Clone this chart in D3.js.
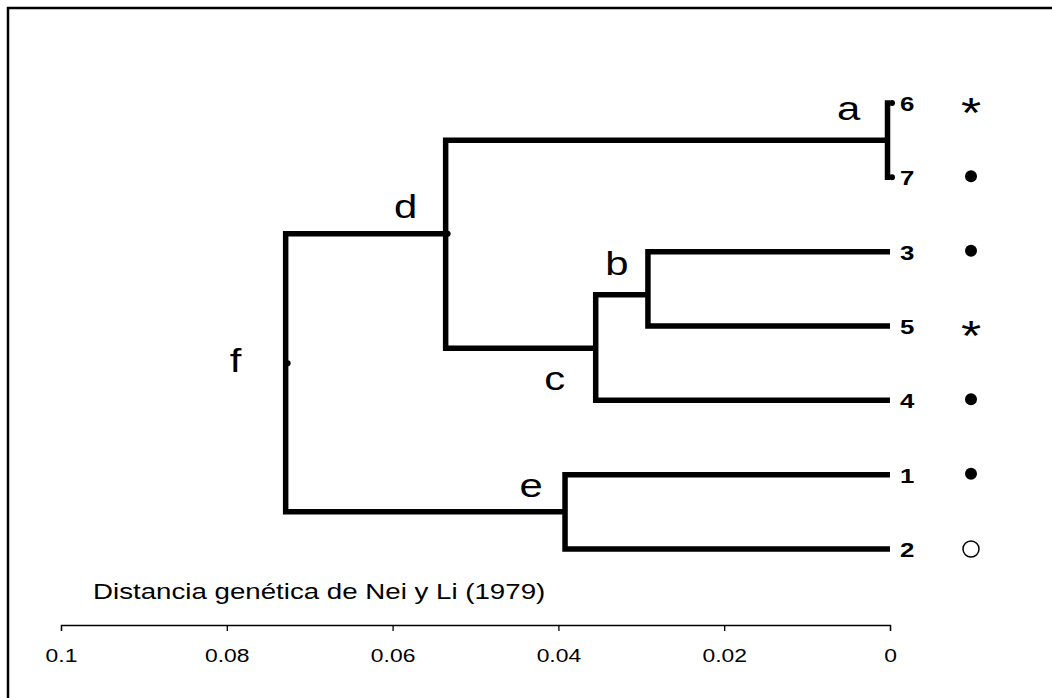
<!doctype html>
<html lang="es">
  <head>
    <meta charset="UTF-8" />
    <title>Dendrograma - Distancia genética de Nei y Li (1979)</title>
    <script src="https://d3js.org/d3.v7.min.js"></script>
    <style>
      body {
        margin: 0;
        padding: 0;
        background: #fff;
        overflow: hidden;
      }
      svg {
        display: block;
        font-family: Arial, "Liberation Sans", sans-serif;
      }
    </style>
  </head>
  <body>
    <script>
      // leaves in drawing order, with the symbol shown beside each one
      const leaves = ["6", "7", "3", "5", "4", "1", "2"];
      const leafSymbols = ["asterisk", "dot", "dot", "asterisk", "dot", "dot", "circle"];

      // internal nodes: name, genetic distance, vertical position (in leaf ranks), children
      const nodeNames = ["a", "b", "c", "d", "e", "f"];
      const nodeDistance = [0.0003, 0.0292, 0.0355, 0.0536, 0.0392, 0.0729];
      const nodeRank = [0.5, 2.58, 3.3, 1.76, 5.5, 3.5];
      const nodeChildren = [["6", "7"], ["3", "5"], ["b", "4"], ["a", "c"], ["1", "2"], ["d", "e"]];

      // nodes with a small marker dot
      const markedNodes = ["d", "f", "6", "7"];

      const tickValues = [0.1, 0.08, 0.06, 0.04, 0.02, 0];
      const axisTitle = "Distancia genética de Nei y Li (1979)";

      const width = 1052;
      const height = 698;
      // the original picture is stretched sideways, text included
      const stretch = 1.23;

      // where each node's letter sits relative to the node
      const labelOffset = {
        a: [-39, -20],
        b: [-31, -20],
        c: [-41, 42],
        d: [-40, -16],
        e: [-34, -15],
        f: [-50, 9],
      };

      // build the tree as a plain object and hand it to d3.hierarchy
      const table = {};
      leaves.forEach((name, i) => {
        table[name] = { name, dist: 0, rank: i, symbol: leafSymbols[i] };
      });
      nodeNames.forEach((name, i) => {
        table[name] = { name, dist: nodeDistance[i], rank: nodeRank[i] };
      });
      nodeNames.forEach((name, i) => {
        table[name].children = nodeChildren[i].map((c) => table[c]);
      });
      const root = d3.hierarchy(table["f"]);

      const x = d3.scaleLinear().domain([0.1, 0]).range([61, 890]);
      const y = d3.scaleLinear().domain([0, 6]).range([103, 549]);

      const stretched = (tx, ty) => `translate(${tx},${ty}) scale(${stretch},1)`;

      const svg = d3.select("body").append("svg").attr("width", width).attr("height", height);

      // frame (only top and left edges show inside the picture)
      svg
        .append("rect")
        .attr("x", 8)
        .attr("y", 8)
        .attr("width", 1200)
        .attr("height", 900)
        .attr("fill", "none")
        .attr("stroke", "#000")
        .attr("stroke-width", 2.5);

      // elbow branches: from each child across to the parent, down/up the parent's bar
      svg
        .append("g")
        .selectAll("path")
        .data(root.descendants().filter((d) => d.children))
        .join("path")
        .attr("fill", "none")
        .attr("stroke", "#000")
        .attr("stroke-width", 5.5)
        .attr("stroke-linejoin", "miter")
        .attr("d", (d) => {
          const [c0, c1] = d.children;
          const px = x(d.data.dist);
          return (
            `M${x(c0.data.dist)},${y(c0.data.rank)}H${px}` +
            `V${y(c1.data.rank)}H${x(c1.data.dist)}`
          );
        });

      // small marker dots
      svg
        .append("g")
        .selectAll("circle")
        .data(root.descendants().filter((d) => markedNodes.includes(d.data.name)))
        .join("circle")
        .attr("cx", (d) => x(d.data.dist) + 2)
        .attr("cy", (d) => y(d.data.rank))
        .attr("r", 3)
        .attr("fill", "#000");

      // node letters
      svg
        .append("g")
        .style("font-size", "34px")
        .attr("text-anchor", "middle")
        .selectAll("text")
        .data(root.descendants().filter((d) => d.children))
        .join("text")
        .attr("transform", (d) =>
          stretched(
            x(d.data.dist) + labelOffset[d.data.name][0],
            y(d.data.rank) + labelOffset[d.data.name][1]
          )
        )
        .text((d) => d.data.name);

      // leaf numbers
      const leafNodes = root.leaves();
      svg
        .append("g")
        .style("font-size", "21px")
        .style("font-weight", "bold")
        .selectAll("text")
        .data(leafNodes)
        .join("text")
        .attr("transform", (d) => stretched(900, y(d.data.rank) + 8))
        .text((d) => d.data.name);

      // symbols column
      const symX = 971;
      const sym = svg.append("g");
      sym
        .selectAll("circle")
        .data(leafNodes.filter((d) => d.data.symbol !== "asterisk"))
        .join("circle")
        .attr("cx", symX)
        .attr("cy", (d) => y(d.data.rank) + (d.data.symbol === "dot" ? -1 : 0))
        .attr("r", (d) => (d.data.symbol === "dot" ? 6 : 8))
        .attr("fill", (d) => (d.data.symbol === "dot" ? "#000" : "#fff"))
        .attr("stroke", "#000")
        .attr("stroke-width", (d) => (d.data.symbol === "dot" ? 0 : 1.5));
      sym
        .selectAll("text")
        .data(leafNodes.filter((d) => d.data.symbol === "asterisk"))
        .join("text")
        .attr("transform", (d) => stretched(symX, y(d.data.rank) + 24))
        .attr("text-anchor", "middle")
        .style("font-size", "42px")
        .text("*");

      // distance axis
      const axisY = 625;
      const axis = svg
        .append("g")
        .attr("transform", `translate(0,${axisY})`)
        .call(
          d3
            .axisBottom(x)
            .tickValues(tickValues)
            .tickFormat((d) => String(d))
            .tickSize(6)
            .tickPadding(23)
        );
      axis.select(".domain").attr("stroke", "#000").attr("stroke-width", 1.3);
      axis.selectAll(".tick line").attr("stroke", "#000").attr("stroke-width", 1.3);
      axis
        .selectAll(".tick text")
        .attr("y", null)
        .attr("dy", null)
        .attr("transform", stretched(0, 37))
        .style("font-family", "Arial, 'Liberation Sans', sans-serif")
        .style("font-size", "18.6px")
        .attr("fill", "#000");

      svg
        .append("text")
        .attr("transform", stretched(93, 599))
        .style("font-size", "22.5px")
        .text(axisTitle);
    </script>
  </body>
</html>
